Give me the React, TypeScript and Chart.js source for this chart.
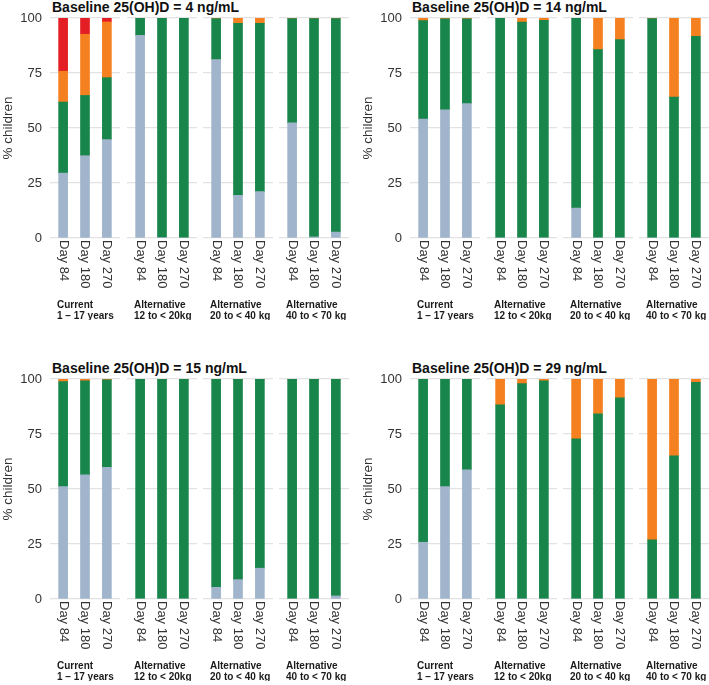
import React, { useEffect, useRef } from "react";
import { Chart, registerables } from "chart.js";

Chart.register(...registerables);

// ---------- data ----------
const baselineLevels = [4, 14, 15, 29];
const dayLabels = ["Day 84", "Day 180", "Day 270"];
const regimenNames = ["Current", "Alternative", "Alternative", "Alternative"];
const regimenGroups = ["1 – 17 years", "12 to < 20kg", "20 to < 40 kg", "40 to < 70 kg"];
const yTickValues = [0, 25, 50, 75, 100];
const seriesNames = ["Below target", "Target", "Above target", "Toxic"];
const seriesColors = ["#a0b5cc", "#18854a", "#f5801f", "#e31e25"];

// each array: 4 regimens x 3 days (Day 84, Day 180, Day 270), % children
const belowTarget4 = [29.5, 37.4, 44.7, 92.1, 0.3, 0, 81.1, 19.4, 21.1, 52.3, 0.5, 2.7];
const inTarget4 = [32.3, 27.4, 28.2, 7.9, 99.7, 100, 18.6, 78.2, 76.5, 47.4, 99.2, 97.0];
const aboveTarget4 = [14.0, 27.8, 25.3, 0, 0, 0, 0.3, 2.4, 2.4, 0.3, 0.3, 0.3];
const toxic4 = [24.2, 7.4, 1.8, 0, 0, 0, 0, 0, 0, 0, 0, 0];

const belowTarget14 = [54.1, 58.3, 61.1, 0, 0, 0, 13.6, 0, 0, 0, 0, 0];
const inTarget14 = [44.7, 41.3, 38.5, 99.8, 98.2, 98.9, 86.2, 85.6, 90.2, 99.7, 64.1, 91.7];
const aboveTarget14 = [1.2, 0.4, 0.4, 0.2, 1.8, 1.1, 0.2, 14.4, 9.8, 0.3, 35.9, 8.3];
const toxic14 = [0, 0, 0, 0, 0, 0, 0, 0, 0, 0, 0, 0];

const belowTarget15 = [51.1, 56.4, 59.8, 0, 0, 0, 5.3, 8.8, 14.0, 0, 0, 1.4];
const inTarget15 = [47.7, 42.8, 39.8, 100, 100, 100, 94.5, 91.0, 85.8, 99.8, 99.8, 98.4];
const aboveTarget15 = [1.2, 0.8, 0.4, 0, 0, 0, 0.2, 0.2, 0.2, 0.2, 0.2, 0.2];
const toxic15 = [0, 0, 0, 0, 0, 0, 0, 0, 0, 0, 0, 0];

const belowTarget29 = [25.8, 51.1, 58.7, 0, 0, 0, 0, 0, 0, 0, 0, 0];
const inTarget29 = [74.2, 48.9, 41.3, 88.3, 97.9, 99.2, 72.8, 84.2, 91.4, 26.9, 65.1, 98.5];
const aboveTarget29 = [0, 0, 0, 11.7, 2.1, 0.8, 27.2, 15.8, 8.6, 73.1, 34.9, 1.5];
const toxic29 = [0, 0, 0, 0, 0, 0, 0, 0, 0, 0, 0, 0];

const panelSeries = [
  [belowTarget4, inTarget4, aboveTarget4, toxic4],
  [belowTarget14, inTarget14, aboveTarget14, toxic14],
  [belowTarget15, inTarget15, aboveTarget15, toxic15],
  [belowTarget29, inTarget29, aboveTarget29, toxic29],
];

// ---------- layout ----------
const FONT = '"Liberation Sans", Arial, Helvetica, sans-serif';
const PANEL_X = [0, 360];
const PANEL_Y = [0, 361];
const FACET_LEFT = [50, 127, 203, 279];
const AREA_W = 70;
const AREA_H = 220;
const AXIS_W = 50;
const PAD_TOP = 18;
const PAD_BOTTOM = 82;
const PAD_RIGHT = 6;
const X_MIN = 0.4; // discrete expansion of 0.6 around positions 1..3
const X_MAX = 3.6;

function makeTextPlugin(name: string, group: string) {
  return {
    id: "facetText",
    afterDraw(chart: any) {
      const { ctx, chartArea, scales } = chart;
      ctx.save();
      ctx.fillStyle = "#333333";
      ctx.font = `13px ${FONT}`;
      ctx.textAlign = "left";
      ctx.textBaseline = "middle";
      dayLabels.forEach((d, i) => {
        const x = scales.x.getPixelForValue(i + 1);
        ctx.save();
        ctx.translate(x, chartArea.bottom + 2);
        ctx.rotate(Math.PI / 2);
        ctx.fillText(d, 0, 0);
        ctx.restore();
      });
      ctx.fillStyle = "#1a1a1a";
      ctx.font = `bold 10px ${FONT}`;
      ctx.fillText(name, chartArea.left + 7, chartArea.bottom + 67.5);
      ctx.fillText(group, chartArea.left + 7, chartArea.bottom + 78);
      ctx.restore();
    },
  };
}

function FacetChart(props: { panel: number; facet: number }) {
  const { panel, facet } = props;
  const ref = useRef<HTMLCanvasElement | null>(null);
  const showAxis = facet === 0;
  const col = panel % 2;
  const row = Math.floor(panel / 2);
  const left = PANEL_X[col] + (showAxis ? 0 : FACET_LEFT[facet]);
  const top = PANEL_Y[row];
  const width = (showAxis ? AXIS_W : 0) + AREA_W + PAD_RIGHT;
  const height = PAD_TOP + AREA_H + PAD_BOTTOM;

  useEffect(() => {
    if (!ref.current) return;
    const series = panelSeries[panel];
    const datasets = series.map((vals, s) => ({
      label: seriesNames[s],
      data: vals.slice(facet * 3, facet * 3 + 3).map((v, i) => ({ x: i + 1, y: v })),
      backgroundColor: seriesColors[s],
      borderWidth: 0,
      barThickness: 9,
    }));
    const forceRange = (scale: any) => {
      scale.min = X_MIN;
      scale.max = X_MAX;
    };
    const chart = new Chart(ref.current, {
      type: "bar",
      data: { datasets },
      plugins: [makeTextPlugin(regimenNames[facet], regimenGroups[facet])],
      options: {
        animation: false,
        responsive: false,
        events: [],
        layout: { padding: { top: PAD_TOP, bottom: PAD_BOTTOM, left: 0, right: PAD_RIGHT } },
        plugins: { legend: { display: false }, tooltip: { enabled: false } },
        scales: {
          x: {
            type: "linear",
            display: false,
            stacked: true,
            offset: false,
            bounds: "data",
            min: X_MIN,
            max: X_MAX,
            grid: { offset: false },
            afterDataLimits: forceRange,
            afterBuildTicks: (scale: any) => {
              forceRange(scale);
              scale.ticks = [{ value: X_MIN }, { value: X_MAX }];
            },
          },
          y: {
            stacked: true,
            min: 0,
            max: 100,
            afterBuildTicks: (scale: any) => {
              scale.ticks = yTickValues.map((v) => ({ value: v }));
            },
            afterFit: (scale: any) => {
              scale.width = showAxis ? AXIS_W : 0;
            },
            border: { display: false },
            grid: { color: "#e2e2e2", lineWidth: 1.2, drawTicks: false },
            ticks: {
              display: showAxis,
              padding: 8,
              color: "#333333",
              font: { family: FONT, size: 13 },
            },
            title: {
              display: showAxis,
              text: "% children",
              color: "#333333",
              padding: 0,
              font: { family: FONT, size: 13.5 },
            },
          },
        },
      } as any,
    });
    return () => chart.destroy();
  }, [panel, facet]);

  return (
    <canvas
      ref={ref}
      width={width}
      height={height}
      style={{ position: "absolute", left, top, width, height }}
    />
  );
}

export default function App() {
  return (
    <div
      style={{
        position: "absolute",
        left: 0,
        top: 0,
        width: 709,
        height: 685,
        overflow: "hidden",
        background: "#ffffff",
      }}
    >
      {baselineLevels.map((b, p) => (
        <div
          key={"t" + p}
          style={{
            position: "absolute",
            left: PANEL_X[p % 2] + 52,
            top: PANEL_Y[Math.floor(p / 2)],
            font: `bold 14px ${FONT}`,
            lineHeight: "14px",
            color: "#111111",
            whiteSpace: "nowrap",
          }}
        >
          {`Baseline 25(OH)D = ${b} ng/mL`}
        </div>
      ))}
      {baselineLevels.map((_, p) =>
        [0, 1, 2, 3].map((f) => <FacetChart key={p + "-" + f} panel={p} facet={f} />)
      )}
    </div>
  );
}
